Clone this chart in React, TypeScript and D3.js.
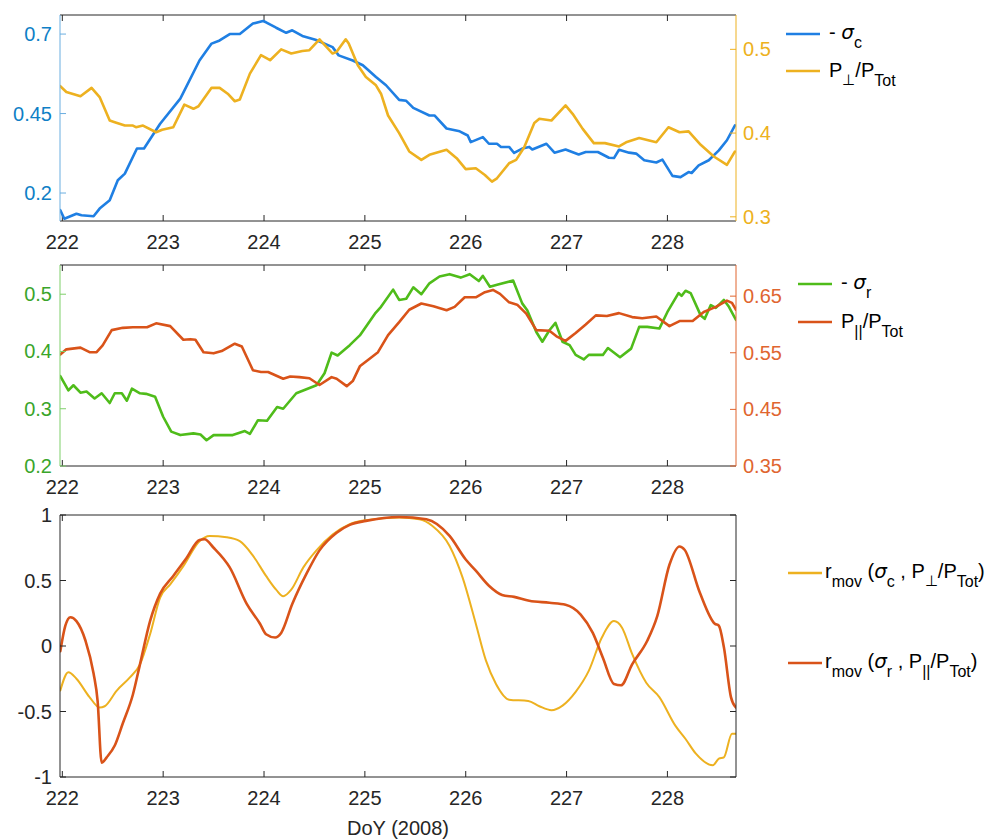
import React from 'react';
import * as d3 from 'd3';

// day of year ticks shared by all panels
const dayTicks = [222, 223, 224, 225, 226, 227, 228];

// panel 1: -sigma_c (left axis) and P_perp/P_tot (right axis)
const sigmaC: [number, number][] = [
  [221.98, 0.146], [222.02, 0.119], [222.14, 0.135], [222.19, 0.13], [222.31, 0.127],
  [222.37, 0.151], [222.47, 0.177], [222.55, 0.24], [222.62, 0.261], [222.74, 0.34],
  [222.81, 0.34], [222.97, 0.418], [223.17, 0.497], [223.36, 0.617], [223.48, 0.67],
  [223.56, 0.68], [223.66, 0.70], [223.76, 0.70], [223.89, 0.733], [223.99, 0.741],
  [224.02, 0.737], [224.12, 0.72], [224.22, 0.704], [224.28, 0.712], [224.38, 0.694],
  [224.51, 0.682], [224.68, 0.659], [224.74, 0.633], [224.88, 0.617], [224.98, 0.602],
  [225.11, 0.565], [225.21, 0.539], [225.34, 0.493], [225.41, 0.49], [225.48, 0.468],
  [225.64, 0.444], [225.69, 0.444], [225.81, 0.403], [225.94, 0.394], [226.02, 0.381],
  [226.05, 0.36], [226.17, 0.376], [226.23, 0.355], [226.31, 0.355], [226.35, 0.345],
  [226.43, 0.345], [226.48, 0.326], [226.56, 0.34], [226.63, 0.345], [226.66, 0.337],
  [226.80, 0.355], [226.88, 0.327], [226.99, 0.337], [227.12, 0.321], [227.19, 0.329],
  [227.31, 0.329], [227.42, 0.311], [227.47, 0.31], [227.52, 0.336], [227.62, 0.327],
  [227.69, 0.324], [227.77, 0.303], [227.89, 0.296], [227.95, 0.305], [228.05, 0.254],
  [228.13, 0.25], [228.21, 0.266], [228.24, 0.263], [228.31, 0.287], [228.41, 0.303],
  [228.51, 0.334], [228.59, 0.366], [228.67, 0.413],
];
const pPerp: [number, number][] = [
  [221.98, 0.456], [222.04, 0.449], [222.18, 0.444], [222.29, 0.454], [222.37, 0.443],
  [222.47, 0.415], [222.52, 0.413], [222.62, 0.409], [222.70, 0.409], [222.73, 0.407],
  [222.80, 0.409], [222.93, 0.401], [222.99, 0.404], [223.10, 0.407], [223.21, 0.434],
  [223.30, 0.429], [223.35, 0.432], [223.48, 0.454], [223.56, 0.454], [223.64, 0.447],
  [223.71, 0.438], [223.76, 0.44], [223.86, 0.471], [223.97, 0.493], [224.06, 0.487],
  [224.17, 0.5], [224.27, 0.495], [224.38, 0.498], [224.45, 0.499], [224.55, 0.512],
  [224.68, 0.495], [224.72, 0.497], [224.81, 0.512], [224.84, 0.507], [224.93, 0.481],
  [225.01, 0.467], [225.11, 0.457], [225.16, 0.447], [225.23, 0.421], [225.34, 0.4],
  [225.44, 0.378], [225.56, 0.368], [225.64, 0.374], [225.81, 0.38], [225.91, 0.37],
  [226.00, 0.357], [226.10, 0.358], [226.19, 0.35], [226.26, 0.342], [226.31, 0.346],
  [226.43, 0.364], [226.50, 0.368], [226.58, 0.383], [226.68, 0.412], [226.73, 0.417],
  [226.85, 0.415], [226.99, 0.433], [227.06, 0.423], [227.16, 0.405], [227.27, 0.388],
  [227.38, 0.388], [227.52, 0.384], [227.59, 0.389], [227.72, 0.394], [227.89, 0.389],
  [228.01, 0.407], [228.12, 0.401], [228.21, 0.402], [228.33, 0.386], [228.46, 0.372],
  [228.59, 0.362], [228.67, 0.378],
];

// panel 2: -sigma_r (left axis) and P_par/P_tot (right axis)
const sigmaR: [number, number][] = [
  [221.98, 0.357], [222.06, 0.332], [222.11, 0.341], [222.18, 0.328], [222.24, 0.33],
  [222.32, 0.318], [222.39, 0.327], [222.47, 0.31], [222.52, 0.327], [222.59, 0.327],
  [222.64, 0.314], [222.69, 0.335], [222.77, 0.327], [222.83, 0.326], [222.92, 0.321],
  [223.0, 0.286], [223.08, 0.26], [223.17, 0.254], [223.30, 0.257], [223.37, 0.255],
  [223.43, 0.245], [223.50, 0.254], [223.69, 0.254], [223.81, 0.261], [223.86, 0.256],
  [223.94, 0.28], [224.03, 0.279], [224.13, 0.303], [224.19, 0.3], [224.32, 0.327],
  [224.42, 0.334], [224.52, 0.341], [224.60, 0.362], [224.67, 0.398], [224.73, 0.393],
  [224.85, 0.411], [224.95, 0.428], [225.10, 0.466], [225.16, 0.478], [225.28, 0.508],
  [225.34, 0.49], [225.41, 0.492], [225.48, 0.512], [225.56, 0.5], [225.64, 0.519],
  [225.74, 0.531], [225.84, 0.535], [225.95, 0.529], [226.04, 0.535], [226.13, 0.523],
  [226.17, 0.532], [226.24, 0.513], [226.32, 0.517], [226.47, 0.524], [226.56, 0.484],
  [226.61, 0.472], [226.70, 0.434], [226.76, 0.417], [226.83, 0.437], [226.89, 0.45],
  [226.96, 0.417], [227.03, 0.411], [227.09, 0.394], [227.17, 0.386], [227.22, 0.394],
  [227.36, 0.394], [227.41, 0.406], [227.53, 0.39], [227.64, 0.405], [227.72, 0.443],
  [227.80, 0.443], [227.92, 0.44], [228.0, 0.469], [228.11, 0.502], [228.14, 0.497],
  [228.18, 0.506], [228.23, 0.502], [228.33, 0.463], [228.37, 0.457], [228.43, 0.481],
  [228.48, 0.476], [228.56, 0.49], [228.61, 0.478], [228.68, 0.455],
];
const pPar: [number, number][] = [
  [221.98, 0.547], [222.04, 0.556], [222.18, 0.559], [222.27, 0.551], [222.34, 0.551],
  [222.40, 0.563], [222.49, 0.59], [222.60, 0.594], [222.70, 0.595], [222.84, 0.595],
  [222.93, 0.602], [223.07, 0.597], [223.20, 0.573], [223.27, 0.574], [223.32, 0.573],
  [223.40, 0.551], [223.50, 0.549], [223.58, 0.553], [223.71, 0.566], [223.78, 0.561],
  [223.89, 0.519], [223.97, 0.516], [224.04, 0.516], [224.19, 0.504], [224.26, 0.508],
  [224.35, 0.507], [224.45, 0.505], [224.55, 0.493], [224.67, 0.507], [224.72, 0.504],
  [224.82, 0.491], [224.88, 0.5], [224.95, 0.526], [225.05, 0.54], [225.13, 0.551],
  [225.23, 0.581], [225.34, 0.604], [225.44, 0.626], [225.56, 0.637], [225.68, 0.632],
  [225.81, 0.625], [225.89, 0.631], [225.99, 0.648], [226.10, 0.648], [226.19, 0.657],
  [226.27, 0.661], [226.34, 0.654], [226.43, 0.639], [226.51, 0.635], [226.60, 0.619],
  [226.70, 0.59], [226.83, 0.589], [226.90, 0.579], [226.99, 0.571], [227.09, 0.585],
  [227.19, 0.6], [227.29, 0.616], [227.40, 0.615], [227.52, 0.62], [227.65, 0.613],
  [227.75, 0.611], [227.89, 0.614], [228.02, 0.597], [228.12, 0.606], [228.25, 0.606],
  [228.36, 0.622], [228.48, 0.631], [228.59, 0.642], [228.64, 0.638], [228.68, 0.626],
];

// panel 3: moving correlations
const rMovC: [number, number][] = [
  [221.98, -0.34], [222.06, -0.2], [222.14, -0.25], [222.27, -0.39], [222.37, -0.47],
  [222.42, -0.46], [222.54, -0.34], [222.67, -0.24], [222.77, -0.14], [222.87, 0.09],
  [222.97, 0.37], [223.07, 0.47], [223.20, 0.61], [223.36, 0.80], [223.46, 0.84],
  [223.63, 0.83], [223.76, 0.80], [223.89, 0.69], [224.02, 0.535], [224.12, 0.43],
  [224.19, 0.38], [224.27, 0.43], [224.39, 0.6], [224.52, 0.73], [224.68, 0.85],
  [224.85, 0.93], [225.01, 0.96], [225.34, 0.98], [225.54, 0.967], [225.67, 0.916],
  [225.84, 0.764], [225.97, 0.52], [226.10, 0.17], [226.20, -0.11], [226.30, -0.29],
  [226.43, -0.41], [226.62, -0.42], [226.73, -0.46], [226.85, -0.49], [226.96, -0.455],
  [227.09, -0.35], [227.22, -0.19], [227.35, 0.065], [227.47, 0.19], [227.55, 0.14],
  [227.65, -0.06], [227.79, -0.28], [227.92, -0.39], [228.08, -0.61], [228.18, -0.71],
  [228.28, -0.82], [228.45, -0.91], [228.51, -0.86], [228.56, -0.85], [228.64, -0.67],
  [228.68, -0.67],
];
const rMovR: [number, number][] = [
  [221.98, -0.04], [222.03, 0.155], [222.08, 0.22], [222.14, 0.19], [222.23, 0.04],
  [222.31, -0.21], [222.35, -0.42], [222.39, -0.89], [222.44, -0.85], [222.52, -0.76],
  [222.60, -0.59], [222.70, -0.37], [222.77, -0.14], [222.87, 0.19], [222.97, 0.40],
  [223.10, 0.535], [223.23, 0.67], [223.36, 0.81], [223.41, 0.815], [223.50, 0.75],
  [223.66, 0.6], [223.83, 0.32], [223.96, 0.17], [224.02, 0.09], [224.11, 0.065],
  [224.17, 0.10], [224.28, 0.32], [224.42, 0.55], [224.55, 0.73], [224.72, 0.865],
  [224.85, 0.925], [225.01, 0.955], [225.34, 0.985], [225.61, 0.967], [225.84, 0.84],
  [226.00, 0.66], [226.10, 0.575], [226.23, 0.46], [226.36, 0.39], [226.48, 0.375],
  [226.63, 0.345], [226.83, 0.33], [226.99, 0.315], [227.14, 0.24], [227.26, 0.10],
  [227.36, -0.09], [227.47, -0.29], [227.54, -0.30], [227.65, -0.14], [227.80, 0.04],
  [227.90, 0.23], [228.02, 0.62], [228.12, 0.76], [228.17, 0.735], [228.32, 0.41],
  [228.47, 0.17], [228.51, 0.155], [228.56, -0.01], [228.63, -0.39], [228.68, -0.47],
];

const leftTicks1 = [0.2, 0.45, 0.7];
const rightTicks1 = [0.3, 0.4, 0.5];
const leftTicks2 = [0.2, 0.3, 0.4, 0.5];
const rightTicks2 = [0.35, 0.45, 0.55, 0.65];
const leftTicks3 = [-1, -0.5, 0, 0.5, 1];

const FONT = '"Liberation Sans", Arial, Helvetica, sans-serif';
const AX = '#262626';
const BLUE = '#1f7fe3';
const BLUE_AX = '#0f7fc6';
const YEL = '#EDB120';
const GREEN = '#4fbc1a';
const GREEN_AX = '#3aa52a';
const RED = '#D95319';
const RED_AX = '#e0652f';

const X0 = 60;
const X1 = 736;
const x = d3.scaleLinear().domain([221.977, 228.68]).range([X0, X1]);
const TL = 6;

type Pts = [number, number][];

function Panel(props: {
  top: number; bottom: number;
  yL: d3.ScaleLinear<number, number>; ticksL: number[]; colL: string; lineColL: string;
  yR?: d3.ScaleLinear<number, number>; ticksR?: number[]; colR?: string;
  series: { data: Pts; scale: d3.ScaleLinear<number, number>; color: string; width: number; smooth?: boolean }[];
}) {
  const { top, bottom, yL, ticksL, colL, lineColL, yR, ticksR, colR, series } = props;
  const clipId = `clip${top}`;
  return (
    <g>
      <defs>
        <clipPath id={clipId}>
          <rect x={X0} y={top} width={X1 - X0} height={bottom - top} />
        </clipPath>
      </defs>
      <line x1={X0} x2={X1} y1={top} y2={top} stroke={AX} strokeWidth={1} />
      <line x1={X0} x2={X1} y1={bottom} y2={bottom} stroke={AX} strokeWidth={1} />
      {dayTicks.map(d => (
        <g key={d}>
          <line x1={x(d)} x2={x(d)} y1={bottom} y2={bottom - TL} stroke={AX} />
          <line x1={x(d)} x2={x(d)} y1={top} y2={top + TL} stroke={AX} />
          <text x={x(d)} y={bottom + 28} textAnchor="middle" fontSize={20} fill={AX} fontFamily={FONT}>{d}</text>
        </g>
      ))}
      {series.map((s, i) => {
        const line = d3.line<[number, number]>()
          .x(p => x(p[0]))
          .y(p => s.scale(p[1]))
          .curve(s.smooth ? d3.curveMonotoneX : d3.curveLinear);
        return (
          <path key={i} d={line(s.data) || ''} fill="none" stroke={s.color} strokeWidth={s.width}
            strokeLinejoin="round" strokeLinecap="round" clipPath={`url(#${clipId})`} />
        );
      })}
      <line x1={X0} x2={X0} y1={top} y2={bottom} stroke={lineColL} strokeWidth={1} />
      {ticksL.map(t => (
        <g key={t}>
          <line x1={X0} x2={X0 + TL} y1={yL(t)} y2={yL(t)} stroke={lineColL} />
          <text x={X0 - 8} y={yL(t)} dy="0.35em" textAnchor="end" fontSize={20} fill={colL} fontFamily={FONT}>{t}</text>
        </g>
      ))}
      {yR && ticksR && colR ? (
        <g>
          <line x1={X1} x2={X1} y1={top} y2={bottom} stroke={colR} strokeWidth={1} />
          {ticksR.map(t => (
            <g key={t}>
              <line x1={X1} x2={X1 - TL} y1={yR(t)} y2={yR(t)} stroke={colR} />
              <text x={X1 + 7} y={yR(t)} dy="0.35em" textAnchor="start" fontSize={20} fill={colR} fontFamily={FONT}>{t}</text>
            </g>
          ))}
        </g>
      ) : (
        <g>
          <line x1={X1} x2={X1} y1={top} y2={bottom} stroke={AX} strokeWidth={1} />
          {ticksL.map(t => (
            <line key={t} x1={X1} x2={X1 - TL} y1={yL(t)} y2={yL(t)} stroke={AX} />
          ))}
        </g>
      )}
    </g>
  );
}

function LegendLine({ x1, x2, y, color }: { x1: number; x2: number; y: number; color: string }) {
  return <line x1={x1} x2={x2} y1={y} y2={y} stroke={color} strokeWidth={2.5} />;
}

const SIG = '"DejaVu Sans", sans-serif';

export default function App() {
  const y1L = d3.scaleLinear().domain([0.112, 0.76]).range([221, 15]);
  const y1R = d3.scaleLinear().domain([0.295, 0.541]).range([221, 15]);
  const y2L = d3.scaleLinear().domain([0.2, 0.551]).range([466, 265]);
  const y2R = d3.scaleLinear().domain([0.35, 0.705]).range([466, 265]);
  const y3 = d3.scaleLinear().domain([-1, 1]).range([777, 515]);

  return (
    <svg width={1004} height={840} style={{ position: 'absolute', left: 0, top: 0, background: '#fff' }}
      fontFamily={FONT}>
      <rect width={1004} height={840} fill="#fff" />
      <Panel top={15} bottom={221} yL={y1L} ticksL={leftTicks1} colL={BLUE_AX} lineColL="#6aaee0"
        yR={y1R} ticksR={rightTicks1} colR={YEL}
        series={[
          { data: sigmaC, scale: y1L, color: BLUE, width: 2.6 },
          { data: pPerp, scale: y1R, color: YEL, width: 2.6 },
        ]} />
      <Panel top={265} bottom={466} yL={y2L} ticksL={leftTicks2} colL={GREEN_AX} lineColL="#7fcf6a"
        yR={y2R} ticksR={rightTicks2} colR={RED_AX}
        series={[
          { data: sigmaR, scale: y2L, color: GREEN, width: 2.6 },
          { data: pPar, scale: y2R, color: RED, width: 2.6 },
        ]} />
      <Panel top={515} bottom={777} yL={y3} ticksL={leftTicks3} colL={AX} lineColL={AX}
        series={[
          { data: rMovC, scale: y3, color: YEL, width: 2, smooth: true },
          { data: rMovR, scale: y3, color: RED, width: 2.6, smooth: true },
        ]} />
      <text x={398} y={835} textAnchor="middle" fontSize={20} fill={AX}>DoY (2008)</text>

      {/* legend 1 */}
      <LegendLine x1={786} x2={820} y={34} color={BLUE} />
      <text x={829} y={39} fontSize={20} fill="#000">
        <tspan>- </tspan>
        <tspan fontStyle="italic" fontFamily={SIG}>σ</tspan>
        <tspan fontSize={16} dy={9}>c</tspan>
      </text>
      <LegendLine x1={786} x2={820} y={71} color={YEL} />
      <text x={829} y={77} fontSize={20} fill="#000">
        <tspan>P</tspan>
        <tspan fontSize={15} dy={8}>⊥</tspan>
        <tspan dy={-8}>/P</tspan>
        <tspan fontSize={16} dy={9}>Tot</tspan>
      </text>

      {/* legend 2 */}
      <LegendLine x1={798} x2={832} y={284} color={GREEN} />
      <text x={841} y={289} fontSize={20} fill="#000">
        <tspan>- </tspan>
        <tspan fontStyle="italic" fontFamily={SIG}>σ</tspan>
        <tspan fontSize={16} dy={9}>r</tspan>
      </text>
      <LegendLine x1={798} x2={832} y={322} color={RED} />
      <text x={841} y={328} fontSize={20} fill="#000">
        <tspan>P</tspan>
        <tspan fontSize={16} dy={9}>||</tspan>
        <tspan dy={-9}>/P</tspan>
        <tspan fontSize={16} dy={9}>Tot</tspan>
      </text>

      {/* legend 3 */}
      <LegendLine x1={788} x2={822} y={573} color={YEL} />
      <text x={825} y={578} fontSize={20} fill="#000">
        <tspan>r</tspan>
        <tspan fontSize={16} dy={9}>mov</tspan>
        <tspan dy={-9}> (</tspan>
        <tspan fontStyle="italic" fontFamily={SIG}>σ</tspan>
        <tspan fontSize={16} dy={9}>c</tspan>
        <tspan dy={-9}> , P</tspan>
        <tspan fontSize={15} dy={8}>⊥</tspan>
        <tspan dy={-8}>/P</tspan>
        <tspan fontSize={16} dy={9}>Tot</tspan>
        <tspan dy={-9}>)</tspan>
      </text>
      <LegendLine x1={788} x2={822} y={663} color={RED} />
      <text x={825} y={668} fontSize={20} fill="#000">
        <tspan>r</tspan>
        <tspan fontSize={16} dy={9}>mov</tspan>
        <tspan dy={-9}> (</tspan>
        <tspan fontStyle="italic" fontFamily={SIG}>σ</tspan>
        <tspan fontSize={16} dy={9}>r</tspan>
        <tspan dy={-9}> , P</tspan>
        <tspan fontSize={16} dy={9}>||</tspan>
        <tspan dy={-9}>/P</tspan>
        <tspan fontSize={16} dy={9}>Tot</tspan>
        <tspan dy={-9}>)</tspan>
      </text>
    </svg>
  );
}
